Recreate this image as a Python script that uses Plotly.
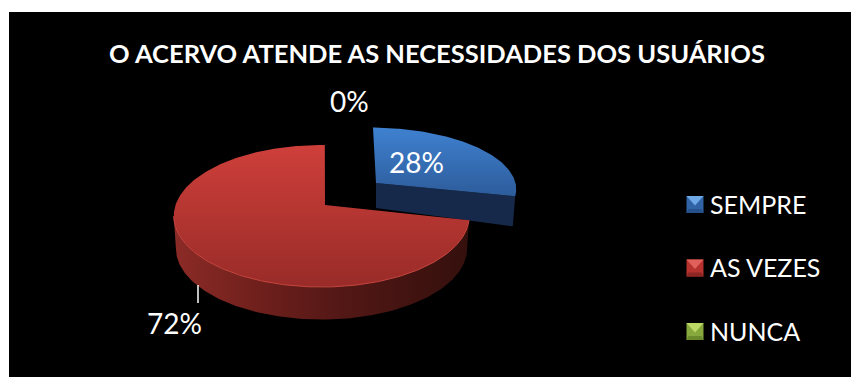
import math
import plotly.graph_objects as go

# Survey answers, in percent
categories = ["SEMPRE", "AS VEZES", "NUNCA"]
values = [28, 72, 0]
title_text = "O ACERVO ATENDE AS NECESSIDADES DOS USUÁRIOS"

W, H = 851, 378
FONT = "Lato"
START_ANGLE = 1.5

# Per-slice projection of a tilted disc onto the page
GEOMETRY = {
    "SEMPRE": dict(cx=369.5, apex=(376, 183), a=146, b=61, k=0.10),
    "AS VEZES": dict(cx=321.5, apex=(325, 205), a=146, b=69.3, k=0.155),
}
TOP_SCALES = {
    "SEMPRE": ("#3f81d0", "#2d5c9b"),
    "AS VEZES": ("#ce3f3a", "#992b28"),
}
KEY_COLOURS = {
    "SEMPRE": ("#6fa8e6", "#2f63a6", "#25508a"),
    "AS VEZES": ("#e0605c", "#b5322f", "#8c2724"),
    "NUNCA": ("#bcd968", "#86a83c", "#6a8a2c"),
}


def ring_point(g, theta, drop=0.0, shrink=1.0):
    """Project an angle (degrees clockwise from north) on the disc rim."""
    t = math.radians(theta)
    u, v = math.sin(t), -math.cos(t)
    w = 1 - g["k"] * v
    return (
        g["cx"] + shrink * g["a"] * u / w,
        g["apex"][1] + g["b"] * v / w + drop,
    )


def arc(g, a0, a1, drop=0.0, shrink=1.0, steps=140):
    pts = [ring_point(g, a0 + (a1 - a0) * i / steps, drop, shrink) for i in range(steps + 1)]
    return [p[0] for p in pts], [p[1] for p in pts]


def polygon(xs, ys, **kw):
    return go.Scatter(x=xs, y=ys, mode="lines", fill="toself", line=dict(width=0),
                      hoverinfo="skip", showlegend=False, **kw)


def vgrad(top, bottom):
    # The y axis runs downward, so the scale is listed from the page's bottom up
    return dict(type="vertical", colorscale=[[0, bottom], [1, top]])


# Angular extent of each slice from the values
total = sum(values)
spans = {}
angle = START_ANGLE
for name, val in zip(categories, values):
    spans[name] = (angle, angle + 360 * val / total)
    angle = spans[name][1]

traces = []

# Detached blue slice: cut face first, then the top
g = GEOMETRY["SEMPRE"]
a0, a1 = spans["SEMPRE"]
ax, ay = g["apex"]
ex, ey = ring_point(g, a1)
traces.append(polygon([ax, ex, ex - 2.5, ax], [ay, ey, ey + 30, ay + 25], fillcolor="#16294a"))
xs, ys = arc(g, a0, a1)
traces.append(polygon([ax] + xs + [ax], [ay] + ys + [ay],
                      fillgradient=vgrad(*TOP_SCALES["SEMPRE"])))

# Red slice: curved wall, rim highlight, then the top
g = GEOMETRY["AS VEZES"]
a0, a1 = spans["AS VEZES"]
ax, ay = g["apex"]
LEFT_EXTREME = 261
xt, yt = arc(g, a0, LEFT_EXTREME)
xb, yb = arc(g, a0, LEFT_EXTREME, drop=32.5, shrink=0.985)
traces.append(polygon(xt + xb[::-1], yt + yb[::-1], fillgradient=dict(
    type="horizontal",
    colorscale=[[0, "#8c2b27"], [0.25, "#73211d"], [0.55, "#541816"], [0.85, "#3e120f"], [1, "#34100d"]],
)))
xs, ys = arc(g, a0, a1, steps=300)
traces.append(polygon([ax] + xs + [ax], [ay] + ys + [ay],
                      fillgradient=vgrad(*TOP_SCALES["AS VEZES"])))
traces.append(go.Scatter(x=xt, y=yt, mode="lines", line=dict(color="#c8463f", width=1),
                         hoverinfo="skip", showlegend=False))

# Leader line of the 72% label
traces.append(go.Scatter(x=[198, 198], y=[285, 303], mode="lines",
                         line=dict(color="white", width=1.5),
                         hoverinfo="skip", showlegend=False))

# Bevelled legend keys
KEY_X, KEY_SIZE = 686.5, 17
KEY_Y = [204.5, 268, 331.5]
for name, yc in zip(categories, KEY_Y):
    light, mid, dark = KEY_COLOURS[name]
    x0, x1 = KEY_X, KEY_X + KEY_SIZE
    y0, y1 = yc - KEY_SIZE / 2, yc + KEY_SIZE / 2
    traces.append(polygon([x0, x1, x1, x0], [y0, y0, y1, y1], fillcolor=mid))
    traces.append(polygon([x0, x1, (x0 + x1) / 2], [y0, y0, yc + 1], fillcolor=light))
    traces.append(polygon([x0, x1, x1 - 2, x0 + 2], [y1, y1, y1 - 4, y1 - 4], fillcolor=dark))

fig = go.Figure(traces)


def label(text, x, y, size, bold=False, anchor="center"):
    fig.add_annotation(x=x, y=y, text=f"<b>{text}</b>" if bold else text, showarrow=False,
                       xref="x", yref="y", xanchor=anchor, yanchor="middle",
                       font=dict(family=FONT, size=size, color="white"))


label(title_text, 437, 53, 25.5, bold=True)
label(f"{values[0]}%", 416, 162, 28)
label(f"{values[1]}%", 174, 323, 28)
label(f"{values[2]}%", 349, 101, 28)
for name, yc in zip(categories, KEY_Y):
    label(name, 708, yc - 1, 25, anchor="left")

fig.update_layout(
    width=W, height=H,
    margin=dict(l=0, r=0, t=0, b=0),
    paper_bgcolor="white", plot_bgcolor="white",
    showlegend=False,
    xaxis=dict(range=[0, W], visible=False, fixedrange=True),
    yaxis=dict(range=[H, 0], visible=False, fixedrange=True),
    shapes=[dict(type="rect", xref="x", yref="y", x0=9, x1=W, y0=12, y1=377,
                 fillcolor="black", line=dict(width=0), layer="below")],
)
fig.write_html("out.html", config={"displayModeBar": False})
